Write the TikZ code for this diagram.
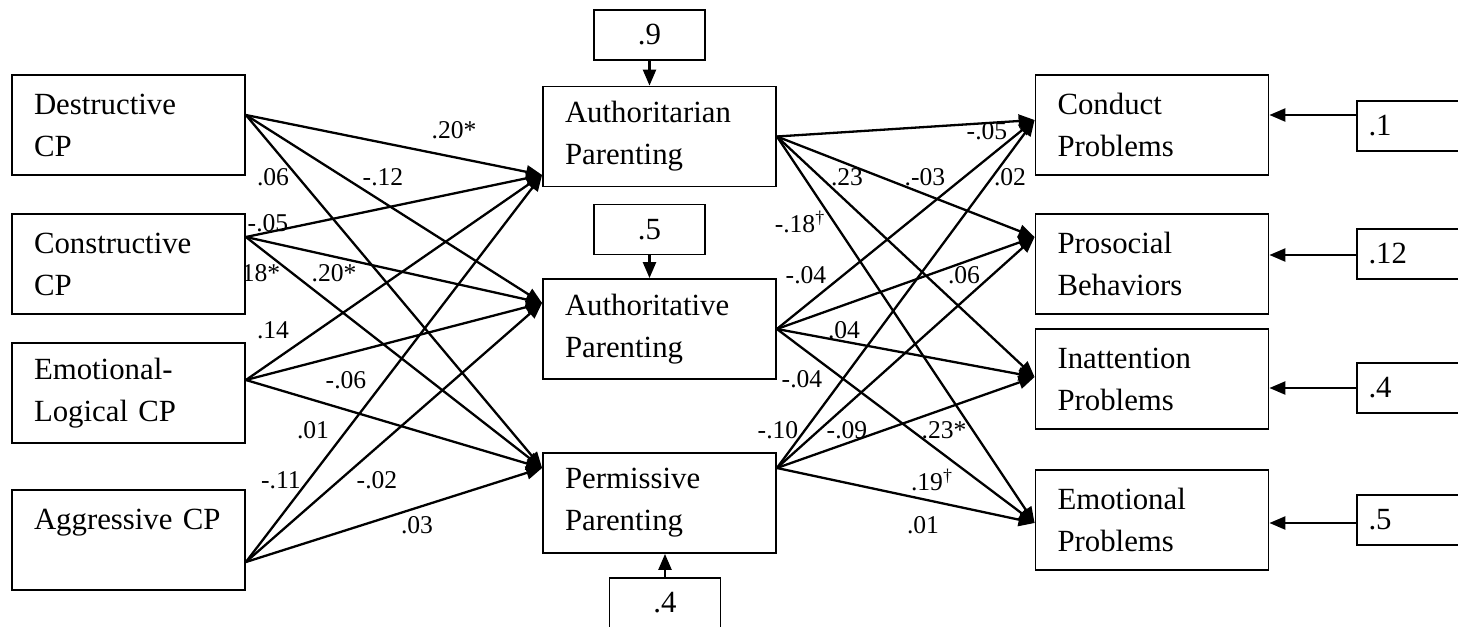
\documentclass[tikz,border=0pt]{standalone}
\usepackage{fontspec}
\setmainfont{Liberation Serif}
\usetikzlibrary{arrows.meta}

\begin{document}
\begin{tikzpicture}[x=0.5pt, y=-0.5pt,
    varbox/.style={draw, line width=0.9pt, minimum width=116.5pt, minimum height=50pt,
        text width=94.5pt, inner xsep=11pt, align=left,
        font=\fontsize{15.4}{21}\selectfont},
    errbox/.style={draw, line width=0.9pt, minimum width=55.5pt, minimum height=25pt,
        inner sep=0pt, font=\fontsize{15.4}{21}\selectfont},
    coef/.style={inner sep=0pt, font=\fontsize{12.8}{15}\selectfont},
    eff/.style={line width=1.15pt, -{Triangle[length=8pt, width=6.5pt]}}]
    \useasboundingbox (0,0) rectangle (1458,627);
    \clip (0,0) rectangle (1458,627);

    % conflict styles
    \node[varbox] (des) at (128.5,125) {Destructive\\CP};
    \node[varbox] (con) at (128.5,264) {Constructive\\CP};
    \node[varbox] (emo) at (128.5,393) {Emotional-\\Logical CP};
    \node[varbox] (agg) at (128.5,540) {Aggressive CP\\\mbox{}};

    % parenting
    \node[varbox] (auth) at (659.5,136.5) {Authoritarian\\Parenting};
    \node[varbox] (ative) at (659.5,329) {Authoritative\\Parenting};
    \node[varbox] (perm) at (659.5,503) {Permissive\\Parenting};

    % outcomes
    \node[varbox] (cond) at (1152,125) {Conduct\\Problems};
    \node[varbox] (pros) at (1152,264) {Prosocial\\Behaviors};
    \node[varbox] (inat) at (1152,379) {Inattention\\Problems};
    \node[varbox] (emop) at (1152,520) {Emotional\\Problems};

    % error terms
    \node[errbox] (e9) at (649.5,35) {.9};
    \node[errbox] (e5) at (649.5,229.5) {.5};
    \node[errbox] (e4) at (665,603) {.4};
    \node[errbox, text width=44pt, inner xsep=5.75pt, align=left] (r1) at (1412.5,126) {.1};
    \node[errbox, text width=44pt, inner xsep=5.75pt, align=left] (r2) at (1412.5,254) {.12};
    \node[errbox, text width=44pt, inner xsep=5.75pt, align=left] (r3) at (1412.5,388) {.4};
    \node[errbox, text width=44pt, inner xsep=5.75pt, align=left] (r4) at (1412.5,520) {.5};

    \draw[eff] (e9.south) -- (e9.south |- auth.north);
    \draw[eff] (e5.south) -- (e5.south |- ative.north);
    \draw[eff] (e4.north) -- (e4.north |- perm.south);
    \draw[eff] ([yshift=5.5pt]r1.west) -- ([yshift=5pt]cond.east);
    \draw[eff] ([yshift=-0.5pt]r2.west) -- ([yshift=4.5pt]pros.east);
    \draw[eff] (r3.west) -- ([yshift=-4.5pt]inat.east);
    \draw[eff] ([yshift=-1.5pt]r4.west) -- ([yshift=-1.5pt]emop.east);

    % conflict -> parenting
    \draw[eff] ([yshift=5pt]des.east) -- ([yshift=-19.25pt]auth.west);
    \draw[eff] ([yshift=5pt]des.east) -- ([yshift=13pt]ative.west);
    \draw[eff] ([yshift=5pt]des.east) -- ([yshift=17.5pt]perm.west);
    \draw[eff] ([yshift=13.5pt]con.east) -- ([yshift=-19.25pt]auth.west);
    \draw[eff] ([yshift=13.5pt]con.east) -- ([yshift=13pt]ative.west);
    \draw[eff] ([yshift=13.5pt]con.east) -- ([yshift=17.5pt]perm.west);
    \draw[eff] ([yshift=6.5pt]emo.east) -- ([yshift=-19.25pt]auth.west);
    \draw[eff] ([yshift=6.5pt]emo.east) -- ([yshift=13pt]ative.west);
    \draw[eff] ([yshift=6.5pt]emo.east) -- ([yshift=17.5pt]perm.west);
    \draw[eff] ([yshift=-11pt]agg.east) -- ([yshift=-19.25pt]auth.west);
    \draw[eff] ([yshift=-11pt]agg.east) -- ([yshift=13pt]ative.west);
    \draw[eff] ([yshift=-11pt]agg.east) -- ([yshift=17.5pt]perm.west);

    % parenting -> outcomes
    \draw[eff] (auth.east) -- ([yshift=2.5pt]cond.west);
    \draw[eff] (auth.east) -- ([yshift=13.5pt]pros.west);
    \draw[eff] (auth.east) -- ([yshift=1pt]inat.west);
    \draw[eff] (auth.east) -- ([yshift=-1.5pt]emop.west);
    \draw[eff] (ative.east) -- ([yshift=2.5pt]cond.west);
    \draw[eff] (ative.east) -- ([yshift=13.5pt]pros.west);
    \draw[eff] (ative.east) -- ([yshift=1pt]inat.west);
    \draw[eff] (ative.east) -- ([yshift=-1.5pt]emop.west);
    \draw[eff] ([yshift=17.5pt]perm.east) -- ([yshift=2.5pt]cond.west);
    \draw[eff] ([yshift=17.5pt]perm.east) -- ([yshift=13.5pt]pros.west);
    \draw[eff] ([yshift=17.5pt]perm.east) -- ([yshift=1pt]inat.west);
    \draw[eff] ([yshift=17.5pt]perm.east) -- ([yshift=-1.5pt]emop.west);

    % coefficients
    \node[coef] (c1) at (454,130) {.20*};
    \node[coef] (c2) at (273,177) {.06};
    \node[coef] (c3) at (383,177) {-.12};
    \node[coef] (c4) at (268,223) {-.05};
    \node[coef] (c5) at (261,273) {18*};
    \node[coef] (c6) at (334,273) {.20*};
    \node[coef] (c7) at (273,330) {.14};
    \node[coef] (c8) at (346,380) {-.06};
    \node[coef] (c9) at (313,430) {.01};
    \node[coef] (c10) at (281,480) {-.11};
    \node[coef] (c11) at (377,480) {-.02};
    \node[coef] (c12) at (417,525) {.03};

    \node[coef] (d1) at (987,131) {-.05};
    \node[coef] (d2) at (847,177) {.23};
    \node[coef] (d3) at (925,177) {.-03};
    \node[coef] (d4) at (1010,177) {.02};
    \node[coef] (d5) at (800,222) {-.18\textsuperscript{\textdagger}};
    \node[coef] (d6) at (806,275) {-.04};
    \node[coef] (d7) at (964,275) {.06};
    \node[coef] (d8) at (844,330) {.04};
    \node[coef] (d9) at (802,379) {-.04};
    \node[coef] (d10) at (778,430) {-.10};
    \node[coef] (d11) at (847,430) {-.09};
    \node[coef] (d12) at (944,430) {.23*};
    \node[coef] (d13) at (932,480) {.19\textsuperscript{\textdagger}};
    \node[coef] (d14) at (923,525) {.01};
\end{tikzpicture}
\end{document}
